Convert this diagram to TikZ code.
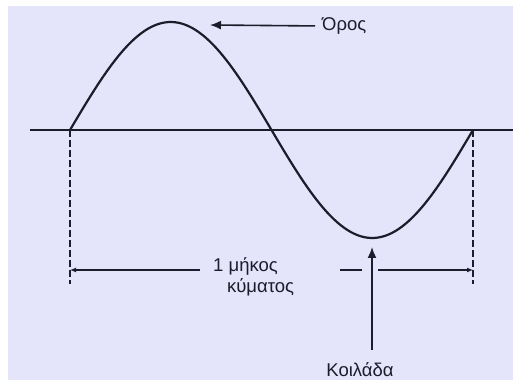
\documentclass[tikz,border=0pt]{standalone}
\usepackage{fontspec}
\setmainfont{Liberation Sans}
\usetikzlibrary{arrows.meta}
\definecolor{bgcol}{RGB}{228,228,250}
\definecolor{ink}{RGB}{28,28,42}
\tikzset{
	label/.style={font=\fontsize{18.5}{21}\selectfont, text=ink, inner sep=1pt},
	pointer/.style={color=ink, line width=1.6pt, -{Latex[length=11pt,width=9pt]}},
	dimline/.style={color=ink, line width=2pt}
}
\begin{document}
\begin{tikzpicture}[x=1pt,y=1pt]
			\fill[white](0,0) rectangle (513,380);
			\fill[bgcol](8,0) rectangle (513,374);
			\useasboundingbox (0,0) rectangle (513,380);
			\coordinate (start) at (70,250);
			\coordinate (stop) at (473,250);
			\coordinate (crestmark) at (210,355);
			\coordinate (troughmark) at (372,133);
			\coordinate (dimleft) at (70,110);
			\coordinate (dimright) at (473,110);
			\coordinate (axisleft) at (30,250);
			\coordinate (axisright) at (513,250);
			\draw[color=ink, line width=1.5pt](axisleft) -- (axisright);
			\draw[color=ink, line width=2.2pt, line join=round] plot[domain=0:360, samples=120] ({70+\x/360*403},{250+108*sin(\x)});
			\draw[color=ink, line width=1.6pt, dash pattern=on 7pt off 3pt](start) -- (70,96);
			\draw[color=ink, line width=1.6pt, dash pattern=on 7pt off 3pt](stop) -- (473,96);
			\node[label, anchor=west] (oros) at (321,354) {Όρος};
			\node[label, align=left, anchor=west] (wavelen) at (212,103) {1 μήκος\\ \hspace*{0.75em}κύματος};
			\node[label] (koilada) at (360,10) {Κοιλάδα};
			\draw[pointer, shorten <=6pt](oros.west) -- (crestmark);
			\draw[pointer, shorten <=12pt](koilada.north -| troughmark) -- (troughmark);
			\draw[dimline, {Latex[length=6pt,width=5pt]}-](dimleft) -- (200,110);
			\draw[dimline](340,110) -- (362,110);
			\draw[dimline, -{Latex[length=6pt,width=5pt]}](378,110) -- (dimright);
		\end{tikzpicture}
\end{document}
